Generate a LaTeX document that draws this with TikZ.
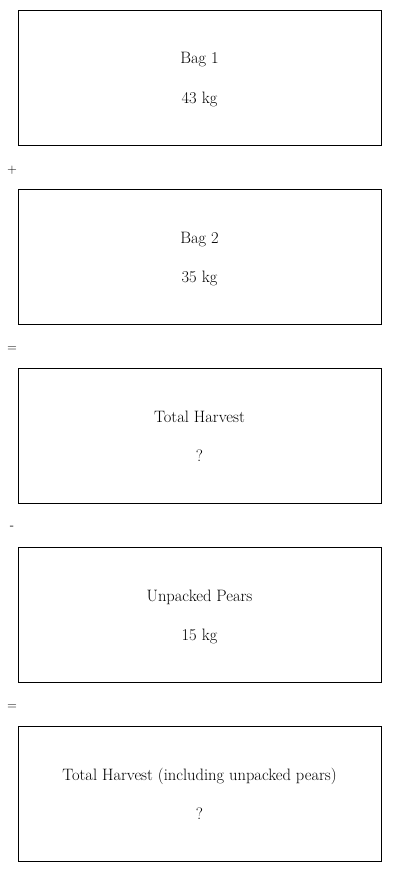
\documentclass[tikz,border=0pt]{standalone}
\usetikzlibrary{positioning}

\tikzset{
  bagbox/.style={draw, line width=0.9pt, minimum width=363pt, minimum height=135pt, inner sep=0pt},
  boxtext/.style={font=\fontsize{16.5}{19}\selectfont, inner sep=0pt, anchor=base},
  opsign/.style={font=\sffamily\fontsize{13}{15}\selectfont, inner sep=0pt}
}

\begin{document}
\begin{tikzpicture}[x=1pt,y=-1pt]
  \def\gap{179}
  \useasboundingbox (0,0) rectangle (400,872);

  % boxes
  \foreach \i/\name/\val in {0/Bag 1/43 kg, 1/Bag 2/35 kg, 2/Total Harvest/?,
    3/Unpacked Pears/15 kg, 4/Total Harvest (including unpacked pears)/?} {
    \def\top{\i*\gap}
    \node[bagbox] (box\i) at (199.5, \top+77.5) {};
    \node[boxtext] (name\i) at (199.5, \top+64) {\name};
    \node[boxtext] (val\i) at (199.5, \top+103) {\val};
  }

  % signs
  \foreach \j/\op in {1/+, 2/=, 3/-, 4/=} {
    \node[opsign] (op\j) at (12, \j*\gap-9) {\op};
  }
\end{tikzpicture}
\end{document}
